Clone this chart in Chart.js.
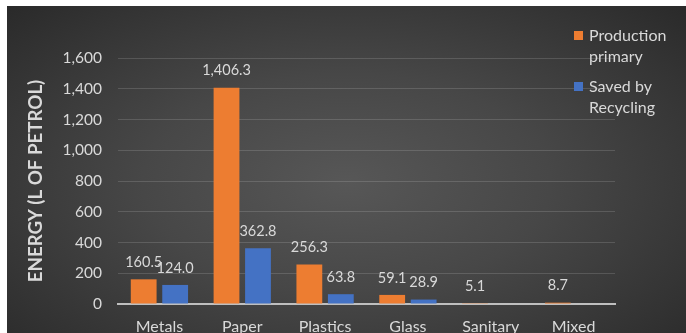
<!DOCTYPE html>
<html>
<head>
<meta charset="utf-8">
<script src="https://cdn.jsdelivr.net/npm/chart.js@4/dist/chart.umd.min.js"></script>
<style>
  html, body { margin: 0; padding: 0; background: #ffffff; width: 686px; height: 333px; overflow: hidden; }
  #wrap { position: absolute; left: 7px; top: 6px; width: 679px; height: 340px;
    background: radial-gradient(ellipse 75% 80% at 50% 52%, #575757 0%, #474747 40%, #343434 75%, #262626 100%); }
  canvas { display: block; }
</style>
</head>
<body>
<div id="wrap"><canvas id="c" width="679" height="340"></canvas></div>
<script>
const categories = ["Metals", "Paper", "Plastics", "Glass", "Sanitary", "Mixed"];
const productionPrimary = [160.5, 1406.3, 256.3, 59.1, 5.1, 8.7];
const savedByRecycling = [124.0, 362.8, 63.8, 28.9, null, null];
const seriesLabels = [["Production", "primary"], ["Saved by", "Recycling"]];
const yTicks = [0, 200, 400, 600, 800, 1000, 1200, 1400, 1600];
const yTitle = "ENERGY (L OF PETROL)";

const TEXT = "#d9d9d9";
const FONT = "Lato, 'Open Sans', sans-serif";

const valueLabels = {
  id: "valueLabels",
  afterDatasetsDraw(chart) {
    const ctx = chart.ctx;
    ctx.save();
    ctx.fillStyle = TEXT;
    ctx.font = "14.5px " + FONT;
    ctx.textAlign = "center";
    ctx.textBaseline = "middle";
    chart.data.datasets.forEach((ds, i) => {
      const meta = chart.getDatasetMeta(i);
      meta.data.forEach((bar, j) => {
        const v = ds.data[j];
        if (v === null || v === undefined) return;
        const txt = v.toLocaleString("en-US", { minimumFractionDigits: 1, maximumFractionDigits: 1 });
        ctx.fillText(txt, bar.x, bar.y - 17);
      });
    });
    ctx.restore();
  }
};

const sideLegend = {
  id: "sideLegend",
  afterDraw(chart) {
    const ctx = chart.ctx;
    ctx.save();
    ctx.font = "16px " + FONT;
    ctx.textAlign = "left";
    ctx.textBaseline = "middle";
    const x0 = chart.chartArea.right - 41;
    let y = 30;
    chart.data.datasets.forEach((ds) => {
      ctx.fillStyle = ds.backgroundColor;
      ctx.fillRect(x0, y - 5, 9, 9);
      ctx.fillStyle = TEXT;
      const lines = Array.isArray(ds.label) ? ds.label : [ds.label];
      lines.forEach((ln, k) => ctx.fillText(ln, x0 + 15, y + k * 21));
      y += 51;
    });
    ctx.restore();
  }
};

new Chart(document.getElementById("c"), {
  type: "bar",
  data: {
    labels: categories,
    datasets: [
      { label: seriesLabels[0], data: productionPrimary, backgroundColor: "#ED7D31" },
      { label: seriesLabels[1], data: savedByRecycling, backgroundColor: "#4472C4" }
    ]
  },
  options: {
    responsive: false,
    animation: false,
    layout: { padding: { top: 52, right: 71, left: 0, bottom: 0 } },
    datasets: { bar: { categoryPercentage: 0.76, barPercentage: 0.82 } },
    plugins: { legend: { display: false }, tooltip: { enabled: false } },
    scales: {
      x: {
        grid: { display: false, drawTicks: false },
        border: { display: true, color: "#bfbfbf", width: 2 },
        ticks: { color: TEXT, font: { family: FONT, size: 16 }, padding: 13, maxRotation: 0 },
        afterFit(s) { s.height = 42; }
      },
      y: {
        min: 0, max: 1600,
        afterBuildTicks(s) { s.ticks = yTicks.map(v => ({ value: v })); },
        grid: { color: "rgba(255,255,255,0.14)", lineWidth: 1, drawTicks: false },
        border: { display: false },
        ticks: {
          color: TEXT, font: { family: FONT, size: 15.5 }, padding: 16,
          callback: (v) => v.toLocaleString("en-US")
        },
        title: {
          display: true, text: yTitle, color: TEXT,
          font: { family: FONT, size: 18.7, weight: "bold" },
          padding: { top: 18, bottom: 0 }
        },
        afterFit(s) { s.width = 111; }
      }
    }
  },
  plugins: [valueLabels, sideLegend]
});
</script>
</body>
</html>
